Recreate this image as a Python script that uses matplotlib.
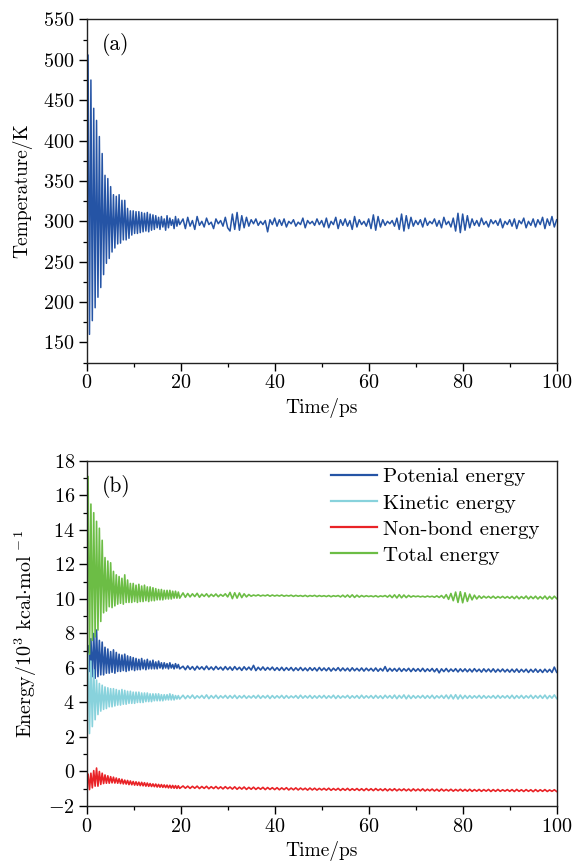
import numpy as np
import matplotlib
matplotlib.use("Agg")
import matplotlib.pyplot as plt

plt.rcParams["font.family"] = "cmr10"
plt.rcParams["mathtext.fontset"] = "cm"
plt.rcParams["axes.formatter.use_mathtext"] = True
plt.rcParams["font.size"] = 14

# time axis: dense sampling during the initial oscillations, coarser afterwards
time = np.concatenate([np.arange(0, 19.81, 0.3), np.arange(20.5, 100.01, 0.5)])

# (a) temperature, K
temp_early = [330, 506, 160, 475, 177, 440, 193, 425, 206, 405,
              218, 384, 234, 357, 248, 353, 254, 343, 262, 333,
              267, 331, 272, 333, 273, 326, 277, 326, 277, 316,
              279, 313, 283, 313, 285, 312, 285, 312, 286, 311,
              287, 310, 288, 311, 287, 309, 289, 308, 290, 307,
              292, 305, 290, 306, 293, 303, 289, 307, 292, 304,
              295, 302, 291, 306, 294, 303, 296]
temp_late = [303, 291, 305, 294, 301, 290, 306, 295, 300, 293, 304, 296, 299, 291, 303, 297, 301, 294, 305, 292,
             288, 309, 290, 311, 289, 307, 292, 305, 294, 302, 297, 303, 295, 300, 296, 301, 287, 302, 296, 304,
             294, 302, 295, 303, 293, 300, 297, 302, 294, 299, 296, 304, 292, 301, 297, 300, 295, 303, 296, 301,
             293, 304, 292, 300, 296, 305, 291, 302, 295, 303, 294, 301, 290, 306, 293, 302, 296, 300, 294, 303,
             291, 308, 289, 306, 293, 302, 295, 300, 297, 301, 294, 304, 290, 309, 288, 307, 291, 305, 294, 301,
             296, 302, 293, 304, 295, 300, 297, 303, 294, 301, 292, 305, 296, 300, 293, 304, 288, 310, 286, 309,
             289, 307, 292, 303, 295, 301, 294, 304, 296, 300, 293, 302, 297, 301, 295, 303, 292, 300, 296, 302,
             294, 303, 291, 301, 297, 304, 292, 300, 295, 303, 293, 302, 296, 305, 291, 303, 295, 306, 293, 302]

# (b) energies, 10^3 kcal/mol
pot_early = [6.6, 7.3, 5.8, 7.7, 5.5, 8.0, 5.4, 8.2, 5.5, 7.6,
             5.6, 7.5, 5.6, 7.2, 5.7, 7.1, 5.7, 6.95, 5.75, 7.05,
             5.7, 6.9, 5.8, 6.8, 5.8, 6.75, 5.85, 6.8, 5.8, 6.7,
             5.85, 6.65, 5.9, 6.6, 5.85, 6.55, 5.9, 6.5, 5.9, 6.55,
             5.95, 6.45, 5.9, 6.5, 5.95, 6.4, 5.95, 6.45, 5.95, 6.35,
             5.95, 6.4, 6.0, 6.3, 5.95, 6.3, 6.0, 6.25, 5.95, 6.3,
             6.0, 6.2, 5.95, 6.25, 6.0, 6.2, 5.95]
pot_late = [6.1, 5.9, 6.12, 5.92, 6.08, 5.88, 6.1, 5.93, 6.07, 5.9, 6.11, 5.91, 6.06, 5.89, 6.09, 5.92, 6.05, 5.88, 6.08, 5.9,
            6.06, 5.87, 6.08, 5.9, 6.04, 5.86, 6.07, 5.89, 6.05, 5.88, 6.15, 5.85, 6.04, 5.88, 6.06, 5.87, 6.03, 5.89, 6.05, 5.86,
            6.02, 5.86, 6.04, 5.85, 6.02, 5.87, 6.03, 5.84, 6.01, 5.86, 6.03, 5.85, 6.0, 5.84, 6.02, 5.86, 6.01, 5.83, 6.03, 5.85,
            6.0, 5.84, 6.01, 5.82, 5.99, 5.85, 6.02, 5.83, 6.0, 5.84, 5.99, 5.82, 6.01, 5.84, 5.98, 5.83, 6.0, 5.82, 5.99, 5.84,
            5.98, 5.82, 6.0, 5.81, 5.97, 5.83, 6.08, 5.8, 5.98, 5.82, 5.97, 5.81, 5.99, 5.8, 5.96, 5.82, 5.98, 5.79, 5.97, 5.81,
            5.96, 5.8, 5.98, 5.79, 5.95, 5.81, 5.97, 5.78, 5.96, 5.72, 5.95, 5.79, 5.97, 5.78, 5.94, 5.8, 5.96, 5.77, 5.95, 5.79,
            5.95, 5.78, 5.94, 5.77, 5.96, 5.79, 5.93, 5.76, 5.95, 5.78, 5.94, 5.77, 5.95, 5.76, 5.93, 5.78, 5.94, 5.77, 5.92, 5.76,
            5.93, 5.76, 5.94, 5.75, 5.92, 5.77, 5.93, 5.74, 5.92, 5.76, 5.94, 5.75, 5.91, 5.74, 5.93, 5.76, 5.92, 5.74, 6.05, 5.75]

kin_early = [4.4, 6.85, 2.2, 6.4, 2.6, 5.9, 3.0, 5.3, 3.3, 5.1,
             3.5, 5.0, 3.6, 4.9, 3.65, 4.85, 3.75, 4.8, 3.75, 4.8,
             3.8, 4.75, 3.85, 4.7, 3.85, 4.75, 3.9, 4.7, 3.9, 4.65,
             3.95, 4.65, 3.95, 4.6, 3.95, 4.6, 4.0, 4.6, 4.0, 4.55,
             4.0, 4.55, 4.05, 4.55, 4.05, 4.5, 4.05, 4.5, 4.1, 4.5,
             4.1, 4.5, 4.1, 4.45, 4.1, 4.45, 4.15, 4.45, 4.15, 4.5,
             4.15, 4.45, 4.15, 4.4, 4.2, 4.4, 4.2]
kin_late = [4.42, 4.22, 4.4, 4.25, 4.43, 4.23, 4.39, 4.26, 4.41, 4.24, 4.44, 4.22, 4.4, 4.25, 4.42, 4.23, 4.39, 4.26, 4.41, 4.24,
            4.4, 4.25, 4.42, 4.23, 4.39, 4.26, 4.41, 4.24, 4.38, 4.26, 4.4, 4.25, 4.42, 4.24, 4.39, 4.26, 4.41, 4.23, 4.4, 4.25,
            4.39, 4.26, 4.41, 4.24, 4.4, 4.25, 4.38, 4.27, 4.4, 4.24, 4.42, 4.25, 4.39, 4.26, 4.41, 4.24, 4.39, 4.25, 4.4, 4.26,
            4.41, 4.24, 4.39, 4.26, 4.42, 4.23, 4.4, 4.25, 4.38, 4.27, 4.41, 4.24, 4.39, 4.26, 4.4, 4.24, 4.42, 4.25, 4.39, 4.26,
            4.4, 4.24, 4.41, 4.25, 4.39, 4.23, 4.42, 4.26, 4.4, 4.24, 4.43, 4.22, 4.41, 4.25, 4.44, 4.21, 4.42, 4.23, 4.4, 4.25,
            4.39, 4.26, 4.41, 4.24, 4.4, 4.25, 4.42, 4.23, 4.39, 4.26, 4.41, 4.24, 4.43, 4.22, 4.44, 4.21, 4.45, 4.2, 4.43, 4.22,
            4.41, 4.24, 4.4, 4.25, 4.39, 4.26, 4.41, 4.24, 4.4, 4.25, 4.38, 4.26, 4.4, 4.24, 4.41, 4.25, 4.39, 4.26, 4.4, 4.24,
            4.42, 4.23, 4.4, 4.25, 4.41, 4.24, 4.39, 4.26, 4.42, 4.23, 4.4, 4.25, 4.41, 4.24, 4.43, 4.22, 4.4, 4.25, 4.44, 4.23]

nb_early = [-0.55, -0.15, -1.05, -0.1, -0.95, 0.05, -0.85, 0.2, -0.85, 0.0,
            -0.75, -0.1, -0.7, -0.2, -0.68, -0.25, -0.68, -0.3, -0.66, -0.33,
            -0.67, -0.38, -0.68, -0.42, -0.7, -0.45, -0.72, -0.5, -0.73, -0.52,
            -0.76, -0.55, -0.77, -0.58, -0.79, -0.6, -0.8, -0.62, -0.82, -0.63,
            -0.83, -0.65, -0.85, -0.67, -0.86, -0.7, -0.87, -0.72, -0.88, -0.73,
            -0.9, -0.75, -0.91, -0.76, -0.92, -0.78, -0.93, -0.79, -0.95, -0.8,
            -0.96, -0.81, -0.97, -0.82, -0.98, -0.83, -0.98]
nb_late = [-0.84, -0.97, -0.85, -0.98, -0.86, -0.97, -0.85, -0.99, -0.87, -0.98, -0.86, -1.0, -0.88, -0.99, -0.87, -1.0, -0.89, -1.01, -0.88, -1.0,
           -0.9, -1.02, -0.89, -1.03, -0.91, -1.02, -0.9, -1.04, -0.92, -1.03, -0.91, -1.04, -0.93, -1.03, -0.92, -1.05, -0.93, -1.04, -0.94, -1.05,
           -0.94, -1.06, -0.95, -1.05, -0.94, -1.07, -0.96, -1.06, -0.95, -1.07, -0.96, -1.06, -0.97, -1.08, -0.96, -1.07, -0.97, -1.08, -0.98, -1.07,
           -0.98, -1.08, -0.97, -1.09, -0.99, -1.08, -0.98, -1.1, -0.99, -1.09, -0.98, -1.1, -1.0, -1.09, -0.99, -1.1, -1.0, -1.11, -0.99, -1.1,
           -1.0, -1.11, -0.99, -1.1, -1.01, -1.11, -1.0, -1.12, -1.01, -1.11, -1.0, -1.12, -1.02, -1.11, -1.01, -1.12, -1.02, -1.13, -1.01, -1.12,
           -1.02, -1.12, -1.01, -1.13, -1.03, -1.12, -1.02, -1.13, -1.03, -1.14, -1.02, -1.13, -1.04, -1.13, -1.03, -1.14, -1.04, -1.13, -1.03, -1.14,
           -1.04, -1.14, -1.03, -1.15, -1.05, -1.14, -1.04, -1.15, -1.05, -1.14, -1.04, -1.16, -1.05, -1.15, -1.04, -1.15, -1.06, -1.14, -1.05, -1.15,
           -1.05, -1.16, -1.04, -1.15, -1.06, -1.16, -1.05, -1.15, -1.06, -1.17, -1.05, -1.16, -1.06, -1.15, -1.05, -1.16, -1.07, -1.15, -1.06, -1.16]

tot_early = [12.0, 17.1, 6.8, 15.5, 7.6, 15.0, 7.8, 14.5, 8.2, 14.1,
             8.7, 13.4, 9.2, 12.4, 9.3, 12.2, 9.55, 12.1, 9.5, 11.6,
             9.6, 11.4, 9.7, 11.3, 9.75, 11.2, 9.7, 11.4, 9.8, 11.1,
             9.8, 10.9, 9.8, 10.9, 9.85, 10.8, 9.8, 10.85, 9.85, 10.75,
             9.85, 10.8, 9.9, 10.7, 9.85, 10.7, 9.9, 10.65, 9.9, 10.6,
             9.95, 10.55, 9.95, 10.55, 9.95, 10.5, 10.0, 10.5, 10.0, 10.5,
             10.0, 10.45, 10.05, 10.45, 10.05, 10.4, 10.05]
tot_late = [10.35, 10.1, 10.32, 10.12, 10.3, 10.14, 10.33, 10.1, 10.28, 10.15, 10.3, 10.12, 10.27, 10.15, 10.29, 10.13, 10.26, 10.16, 10.3, 10.12,
            10.38, 10.02, 10.36, 10.05, 10.35, 10.08, 10.3, 10.12, 10.26, 10.16, 10.23, 10.18, 10.24, 10.17, 10.22, 10.18, 10.24, 10.16, 10.23, 10.17,
            10.22, 10.17, 10.23, 10.16, 10.21, 10.17, 10.22, 10.15, 10.21, 10.16, 10.2, 10.15, 10.21, 10.14, 10.2, 10.16, 10.21, 10.14, 10.2, 10.15,
            10.19, 10.14, 10.2, 10.13, 10.19, 10.15, 10.2, 10.12, 10.22, 10.11, 10.23, 10.1, 10.24, 10.09, 10.22, 10.11, 10.2, 10.13, 10.19, 10.14,
            10.18, 10.13, 10.19, 10.12, 10.18, 10.14, 10.2, 10.11, 10.22, 10.08, 10.24, 10.06, 10.25, 10.07, 10.23, 10.08, 10.21, 10.11, 10.18, 10.13,
            10.17, 10.12, 10.16, 10.11, 10.17, 10.12, 10.16, 10.1, 10.18, 10.09, 10.2, 10.05, 10.25, 9.98, 10.32, 9.9, 10.4, 9.8, 10.42, 9.78,
            10.36, 9.86, 10.28, 9.95, 10.22, 10.0, 10.18, 10.04, 10.16, 10.06, 10.15, 10.05, 10.16, 10.04, 10.14, 10.06, 10.15, 10.05, 10.14, 10.04,
            10.15, 10.02, 10.16, 10.01, 10.14, 10.03, 10.17, 10.0, 10.15, 10.02, 10.16, 10.0, 10.14, 10.01, 10.17, 9.99, 10.15, 10.0, 10.16, 10.02]

series_names = ["Potenial energy", "Kinetic energy", "Non-bond energy", "Total energy"]
series_colors = ["#2554a5", "#88d2dc", "#e92327", "#6cbd45"]
temperature = temp_early + temp_late
energies = [pot_early + pot_late, kin_early + kin_late,
            nb_early + nb_late, tot_early + tot_late]


def style_axes(ax):
    for s in ax.spines.values():
        s.set_linewidth(1.0)
        s.set_color("#222222")
    ax.tick_params(which="major", direction="out", length=5.5, width=1.0, pad=3,
                   labelsize=14.5)
    ax.tick_params(which="minor", direction="out", length=2.8, width=0.9)
    ax.tick_params(top=False, right=False, which="both")


fig = plt.figure(figsize=(5.74, 8.61), dpi=100)

# (a) temperature
ax1 = fig.add_axes([0.151, 0.5788, 0.8188, 0.3986])
ax1.plot(time, temperature, color="#2554a5", lw=1.1)
ax1.set_xlim(0, 100)
ax1.set_ylim(125, 550)
ax1.set_xticks(np.arange(0, 101, 20))
ax1.set_xticks(np.arange(10, 100, 20), minor=True)
ax1.set_yticks(np.arange(150, 551, 50))
ax1.set_yticks(np.arange(125, 550, 50), minor=True)
ax1.set_xlabel("Time/ps", labelpad=4)
ax1.set_ylabel("Temperature/K", labelpad=8)
ax1.text(0.033, 0.928, "(a)", transform=ax1.transAxes, va="center", ha="left",
         fontsize=15.5)
style_axes(ax1)

# (b) energies
ax2 = fig.add_axes([0.151, 0.0639, 0.8188, 0.4007])
for name, col, vals in zip(series_names, series_colors, energies):
    ax2.plot(time, vals, color=col, lw=1.2, label=name)
ax2.set_xlim(0, 100)
ax2.set_ylim(-2, 18)
ax2.set_xticks(np.arange(0, 101, 20))
ax2.set_xticks(np.arange(10, 100, 20), minor=True)
ax2.set_yticks(np.arange(-2, 19, 2))
ax2.set_yticks(np.arange(-1, 18, 2), minor=True)
ax2.set_xlabel("Time/ps", labelpad=4)
ax2.set_ylabel(r"Energy/$10^3$ kcal$\cdot$mol$^{\,-1}$", labelpad=7, fontsize=14.5)
ax2.text(0.033, 0.925, "(b)", transform=ax2.transAxes, va="center", ha="left",
         fontsize=15.5)
leg = ax2.legend(loc="upper left", bbox_to_anchor=(0.52, 0.98), frameon=False,
                 borderaxespad=0, borderpad=0, handlelength=2.2, handletextpad=0.3,
                 labelspacing=0.36, fontsize=15)
for h in leg.get_lines():
    h.set_linewidth(1.6)
style_axes(ax2)

fig.savefig("out.png", dpi=100)
